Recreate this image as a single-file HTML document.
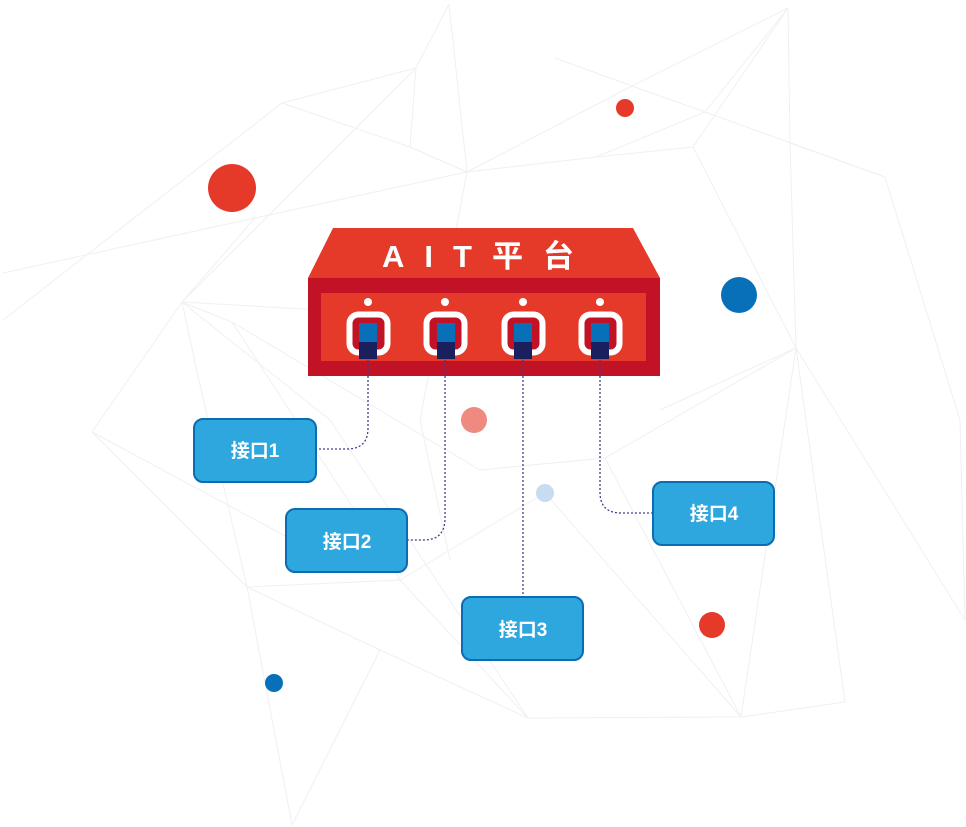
<!DOCTYPE html>
<html><head><meta charset="utf-8"><style>
html,body{margin:0;padding:0;background:#fff;width:966px;height:827px;overflow:hidden}
svg{display:block}
.t{font-family:"Liberation Sans","Noto Sans CJK SC",sans-serif;font-weight:bold;fill:#fff}
</style></head><body>
<svg width="966" height="827" viewBox="0 0 966 827" xmlns="http://www.w3.org/2000/svg">
<g stroke="#f0f0f4" stroke-width="1" fill="none">
<polyline points="449,4 416,68 282,103 3,320"/>
<polyline points="449,4 467,172 410,147 416,68"/>
<polyline points="788,8 632,86 467,172 255,218 3,273"/>
<polyline points="788,8 705,112 596,157 467,172"/>
<polyline points="788,8 790,143 796,348 741,717"/>
<polyline points="788,8 693,147 596,157"/>
<polyline points="555,58 632,86 705,112 885,177 960,420 965,620"/>
<polyline points="282,103 410,147 467,172"/>
<polyline points="693,147 796,348 965,620"/>
<polyline points="790,143 885,177"/>
<polyline points="255,218 182,302 92,432 247,587 292,825"/>
<polyline points="416,68 182,302 320,310"/>
<polyline points="182,302 232,322 400,580"/>
<polyline points="182,302 197,372 247,587 400,580 528,718 741,717 845,702 796,348"/>
<polyline points="182,302 330,420 528,718"/>
<polyline points="92,432 330,560"/>
<polyline points="232,322 480,470 605,458 796,348"/>
<polyline points="247,587 380,650 528,718"/>
<polyline points="400,580 545,493 741,717"/>
<polyline points="380,650 292,825"/>
<polyline points="660,410 796,348"/>
<polyline points="605,458 741,717"/>
<polyline points="467,172 420,420 450,560"/>
</g>
<circle cx="232" cy="188" r="24" fill="#e5392a"/>
<circle cx="625" cy="108" r="9" fill="#e5392a"/>
<circle cx="739" cy="295" r="18" fill="#0870b8"/>
<circle cx="474" cy="420" r="13" fill="#ef8a80"/>
<circle cx="545" cy="493" r="9" fill="#c8dcef"/>
<circle cx="712" cy="625" r="13" fill="#e5392a"/>
<circle cx="274" cy="683" r="9" fill="#0870b8"/>

<polygon points="333,228 633,228 660,278 308,278" fill="#e53a2a"/>
<rect x="308" y="278" width="352" height="98" fill="#c21226"/>
<rect x="321" y="293" width="325" height="68" fill="#e53a2a"/>
<text x="488" y="267" class="t" font-size="31" text-anchor="middle" letter-spacing="20">AIT平台</text>

<g>
<circle cx="368" cy="302" r="4" fill="#fff"/>
<rect x="349.5" y="314.5" width="38" height="38" rx="9" fill="#c21226" stroke="#fff" stroke-width="6"/>
<rect x="359" y="323" width="18" height="19" fill="#0870b8"/><rect x="359" y="342" width="18" height="17" fill="#1a1f5e"/>
<circle cx="445" cy="302" r="4" fill="#fff"/>
<rect x="426.5" y="314.5" width="38" height="38" rx="9" fill="#c21226" stroke="#fff" stroke-width="6"/>
<rect x="437" y="323" width="18" height="19" fill="#0870b8"/><rect x="437" y="342" width="18" height="17" fill="#1a1f5e"/>
<circle cx="523" cy="302" r="4" fill="#fff"/>
<rect x="504.5" y="314.5" width="38" height="38" rx="9" fill="#c21226" stroke="#fff" stroke-width="6"/>
<rect x="514" y="323" width="18" height="19" fill="#0870b8"/><rect x="514" y="342" width="18" height="17" fill="#1a1f5e"/>
<circle cx="600" cy="302" r="4" fill="#fff"/>
<rect x="581.5" y="314.5" width="38" height="38" rx="9" fill="#c21226" stroke="#fff" stroke-width="6"/>
<rect x="591" y="323" width="18" height="19" fill="#0870b8"/><rect x="591" y="342" width="18" height="17" fill="#1a1f5e"/>
</g>

<g stroke="#3c3f8a" stroke-width="1.3" stroke-dasharray="2,2" fill="none">
<path d="M368,360 V428 Q368,449 347,449 H316"/>
<path d="M445,360 V518 Q445,540 424,540 H408"/>
<path d="M523,360 V596"/>
<path d="M600,360 V492 Q600,513 621,513 H652"/>
</g>

<g fill="#2ea6de" stroke="#0b6cb3" stroke-width="2">
<rect x="194" y="419" width="122" height="63" rx="9"/>
<rect x="286" y="509" width="121" height="63" rx="9"/>
<rect x="462" y="597" width="121" height="63" rx="9"/>
<rect x="653" y="482" width="121" height="63" rx="9"/>
</g>
<g class="t" font-size="19" text-anchor="middle">
<text x="255" y="457">接口1</text>
<text x="347" y="548">接口2</text>
<text x="523" y="636">接口3</text>
<text x="714" y="520">接口4</text>
</g>
</svg>
</body></html>
